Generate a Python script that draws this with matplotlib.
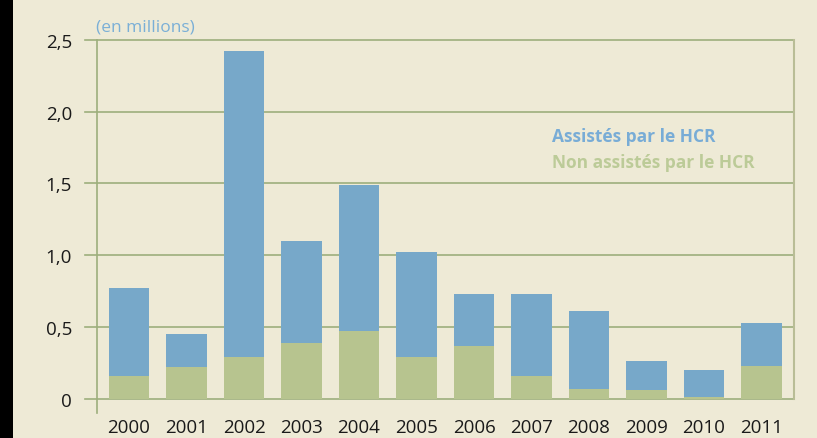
import numpy as np
import matplotlib
matplotlib.use('Agg')
import matplotlib.pyplot as plt
from matplotlib.patches import Rectangle

plt.rcParams['font.family'] = ['Open Sans', 'DejaVu Sans']

# données (en millions)
years = ['2000', '2001', '2002', '2003', '2004', '2005', '2006',
         '2007', '2008', '2009', '2010', '2011']
non_assistes = [0.16, 0.22, 0.29, 0.39, 0.47, 0.29, 0.37, 0.16, 0.07, 0.06, 0.015, 0.23]
totaux = [0.77, 0.45, 2.42, 1.10, 1.49, 1.02, 0.73, 0.73, 0.61, 0.26, 0.20, 0.53]
assistes = [t - n for t, n in zip(totaux, non_assistes)]
yticks = [0, 0.5, 1.0, 1.5, 2.0, 2.5]
ytick_labels = ['0', '0,5', '1,0', '1,5', '2,0', '2,5']

bg = '#EEEAD6'
blue = '#77A8C9'
green = '#B7C48F'
grid_c = '#9DAF7C'

W, H = 817, 439
fig = plt.figure(figsize=(W / 100, H / 100), dpi=100, facecolor=bg)
fig.patches.append(Rectangle((0, 0), 13 / W, 1, transform=fig.transFigure,
                             facecolor='black', edgecolor='none'))

ax = fig.add_axes([97 / W, 1 - 414 / H, (794 - 97) / W, (414 - 41) / H])
ax.set_facecolor(bg)

x = np.arange(len(years))
ax.bar(x, non_assistes, width=0.70, color=green, zorder=3)
ax.bar(x, assistes, width=0.70, bottom=non_assistes, color=blue, zorder=3)

ax.set_xlim(-0.557, 11.565)
ax.set_ylim(-0.1, 2.5)

for v in yticks:
    ax.plot([-0.766, 11.565], [v, v], color=grid_c, lw=1.2, zorder=1, clip_on=False)
ax.plot([11.565, 11.565], [0, 2.5], color='#B9BD96', lw=1.5, zorder=1, clip_on=False)

for s in ['top', 'right', 'bottom']:
    ax.spines[s].set_visible(False)
ax.spines['left'].set_color(grid_c)
ax.spines['left'].set_linewidth(1.2)

ax.set_yticks(yticks)
ax.set_yticklabels(ytick_labels)
ax.tick_params(axis='y', length=0, pad=18, labelsize=13.5, labelcolor='#1a1a1a')
ax.set_xticks(x)
ax.set_xticklabels(years)
ax.tick_params(axis='x', length=0, pad=3.5, labelsize=13.5, labelcolor='#1a1a1a')

fig.text(96 / W, 1 - 27 / H, '(en millions)', color='#7AAFD6', fontsize=12.5,
         va='center', ha='left')
fig.text(552 / W, 1 - 137 / H, 'Assistés par le HCR', color='#78ACD6',
         fontsize=12.5, fontweight='bold', va='center', ha='left')
fig.text(552 / W, 1 - 163 / H, 'Non assistés par le HCR', color='#BCCB98',
         fontsize=12.5, fontweight='bold', va='center', ha='left')

fig.savefig('out.png', dpi=100, facecolor=bg)
